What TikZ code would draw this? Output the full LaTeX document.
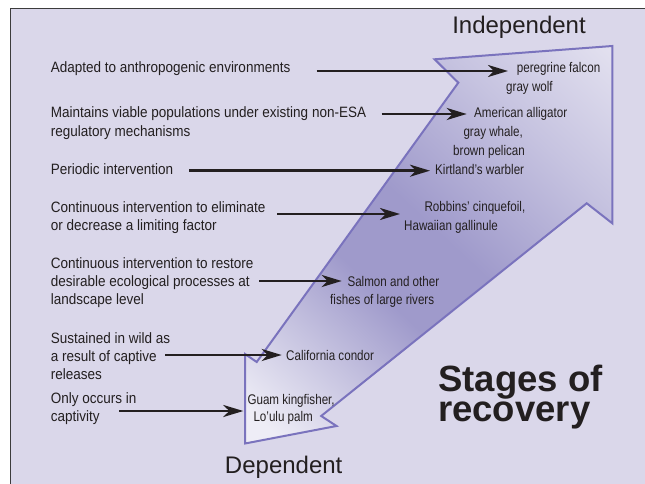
\documentclass[tikz,border=0pt]{standalone}
\usepackage{fontspec}
\setmainfont{Liberation Sans}
\newfontfamily\narrowfont[FakeStretch=0.9]{Liberation Sans}
\newfontfamily\speciesfont[FakeStretch=0.83]{Liberation Sans}
\usetikzlibrary{arrows.meta}

\definecolor{bgpanel}{HTML}{DAD7EA}
\definecolor{framegray}{HTML}{3C3C3C}
\definecolor{arrowedge}{HTML}{7A73BD}
\definecolor{shlight}{HTML}{EEEDF6}
\definecolor{shmid}{HTML}{C6C3E0}
\definecolor{shdark}{HTML}{9F9ACB}
\definecolor{shtop}{HTML}{E4E2F0}
\definecolor{inkblack}{HTML}{231F20}

\pgfdeclarehorizontalshading{stageshade}{100bp}{color(0bp)=(shlight); color(18bp)=(shlight); color(30bp)=(shmid); color(41bp)=(shdark); color(52bp)=(shdark); color(70bp)=(shmid); color(86bp)=(shtop); color(100bp)=(shtop)}

\tikzset{
  criterion/.style={font=\narrowfont\fontsize{15}{18}\selectfont, align=left, inner sep=0pt, anchor=base west, text=inkblack},
  species/.style={font=\speciesfont\fontsize{14}{18}\selectfont, inner sep=0pt, anchor=base west, text=inkblack},
  pointer/.style={draw=inkblack, line width=2.6pt, -{Stealth[length=20pt,width=12pt,inset=6pt]}},
}

\begin{document}
\begin{tikzpicture}[x=1pt, y=-1pt]
\useasboundingbox (0,0) rectangle (645,484);
% Panel
\draw[line width=1.3pt, draw=framegray, fill=bgpanel] (10.5,8.5) rectangle (660,500);
% Big arrow
\path[shading=stageshade, shading angle=47, draw=arrowedge, line width=2pt, miter limit=10]
  (612.3,46) -- (612.3,223.3) -- (586.7,203.3) -- (321.2,416) -- (336.5,426) -- (245,443.5)
  -- (245,354) -- (256.7,362) -- (458.3,82.7) -- (434.6,59.3) -- cycle;
% Ends of the scale
\node[font=\fontsize{24}{24}\selectfont, anchor=base, text=inkblack] (indep) at (519,34) {Independent};
\node[font=\fontsize{24}{24}\selectfont, anchor=base, text=inkblack] (dep) at (283.7,473.3) {Dependent};
\node[font=\bfseries\fontsize{36.5}{30}\selectfont, align=left, inner sep=0pt, anchor=base west, text=inkblack] (title) at (438,421.7) {Stages of\\recovery};
% Criteria (anchored at the baseline of the last line)
\node[criterion] (adapted) at (50.7,72.7) {Adapted to anthropogenic environments};
\node[criterion] (viable) at (50.7,136) {Maintains viable populations under existing non-ESA\\regulatory mechanisms};
\node[criterion] (periodic) at (50.7,175) {Periodic intervention};
\node[criterion] (eliminate) at (50.7,230.5) {Continuous intervention to eliminate\\or decrease a limiting factor};
\node[criterion] (restore) at (50.7,304.3) {Continuous intervention to restore\\desirable ecological processes at\\landscape level};
\node[criterion] (wild) at (50.7,379) {Sustained in wild as\\a result of captive\\releases};
\node[criterion] (captive) at (50.7,421.7) {Only occurs in\\captivity};
% Species
\node[species] (falcon) at (516.7,73) {peregrine falcon};
\node[species] (wolf) at (506,91.7) {gray wolf};
\node[species] (alligator) at (474,118) {American alligator};
\node[species] (whale) at (463.3,136.7) {gray whale,};
\node[species] (pelican) at (453,155) {brown pelican};
\node[species] (warbler) at (435,174) {Kirtland’s warbler};
\node[species] (cinquefoil) at (424.3,211.7) {Robbins’ cinquefoil,};
\node[species] (gallinule) at (404,230) {Hawaiian gallinule};
\node[species] (salmon) at (347.3,286) {Salmon and other};
\node[species] (fishes) at (330,304) {fishes of large rivers};
\node[species] (condor) at (286,360) {California condor};
\node[species] (kingfisher) at (247.3,404) {Guam kingfisher,};
\node[species] (palm) at (253.3,421.7) {Lo’ulu palm};
% Pointers
\coordinate (p1) at (316.7,71);
\coordinate (p2) at (381.7,114);
\coordinate (p3) at (189,170.7);
\coordinate (p4) at (277,214);
\coordinate (p5) at (259.3,281);
\coordinate (p6) at (165,355);
\coordinate (p7) at (119,411);
\draw[pointer, shorten >=8.7pt] (p1) -- (p1 -| falcon.west);
\draw[pointer, shorten >=7.3pt] (p2) -- (p2 -| alligator.west);
\draw[pointer, shorten >=5pt] (p3) -- (p3 -| warbler.west);
\draw[pointer, shorten >=4pt] (p4) -- (p4 -| gallinule.west);
\draw[pointer, shorten >=5.6pt] (p5) -- (p5 -| salmon.west);
\draw[pointer, shorten >=4.3pt] (p6) -- (p6 -| condor.west);
\draw[pointer, shorten >=4pt] (p7) -- (p7 -| kingfisher.west);
\end{tikzpicture}
\end{document}
